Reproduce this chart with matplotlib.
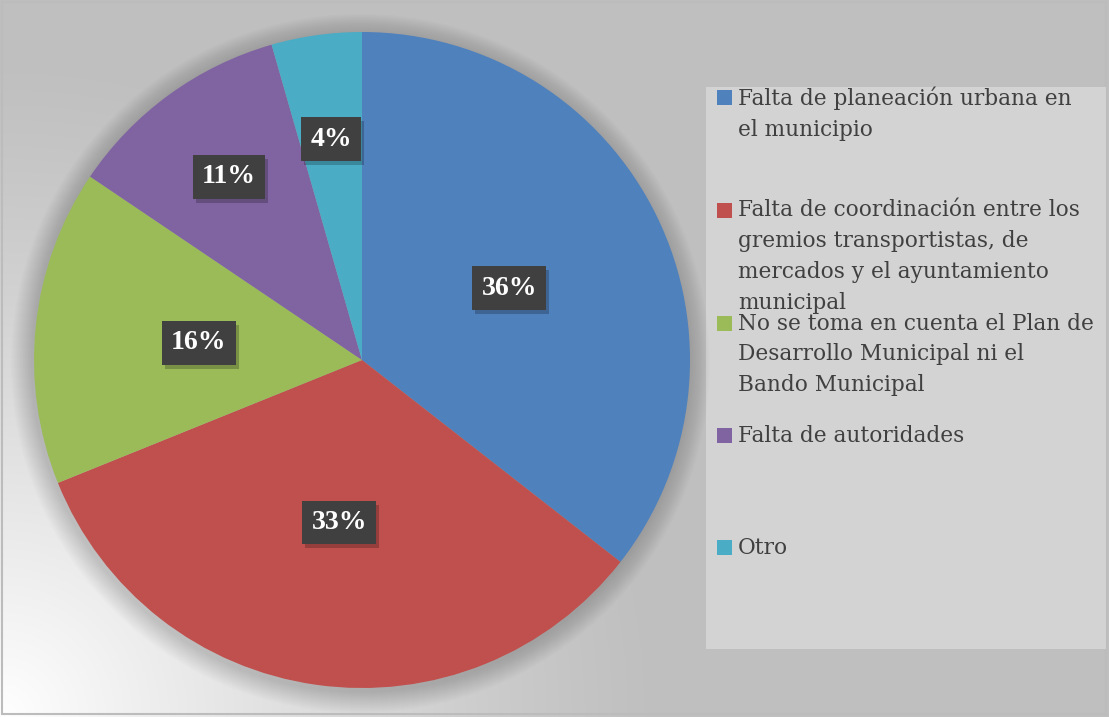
import numpy as np
import matplotlib
matplotlib.use("Agg")
import matplotlib.pyplot as plt
from matplotlib.patches import Rectangle, Circle

# -------------------------------
# Data
# -------------------------------
categories = [
    "Falta de planeación urbana en\nel municipio",
    "Falta de coordinación entre los\ngremios transportistas, de\nmercados y el ayuntamiento\nmunicipal",
    "No se toma en cuenta el Plan de\nDesarrollo Municipal ni el\nBando Municipal",
    "Falta de autoridades",
    "Otro",
]
counts = [16, 15, 7, 5, 2]

colors = ["#4f81bd", "#c0504d", "#9bbb59", "#8064a2", "#4bacc6"]
label_dist = [0.5, 0.5, 0.5, 0.69, 0.68]

W, H = 1109, 717
fig = plt.figure(figsize=(W / 100, H / 100), dpi=100)
fig.patch.set_facecolor("white")

# -------------------------------
# Background gradient
# -------------------------------
bg = fig.add_axes([0, 0, 1, 1])
yy, xx = np.mgrid[0:H, 0:W]
d = np.sqrt((xx - 0.0) ** 2 + (yy - 717.0) ** 2)
v = 0.75 + 0.25 * np.clip(1 - d / 660.0, 0, 1) ** 1.2
bg.imshow(np.dstack([v, v, v]), extent=[0, W, H, 0], aspect="auto")
bg.set_xlim(0, W)
bg.set_ylim(H, 0)
bg.axis("off")
bg.add_patch(Rectangle((2, 2), W - 5, H - 5, fill=False,
                       edgecolor="#bcbcbc", linewidth=1.5))

# legend panel
bg.add_patch(Rectangle((706, 87), 400, 562, facecolor="#d3d3d3",
                       edgecolor="none"))

# -------------------------------
# Pie
# -------------------------------
cx, cy, R = 362, 360, 328
ax = fig.add_axes([(cx - 330) / W, (H - cy - 330) / H, 660 / W, 660 / H])
r = R / 330

# soft shadow
for i in range(14):
    ax.add_patch(Circle((-0.005, -0.01), r + 0.065 * (i + 1) / 14,
                        facecolor="black", alpha=0.011, edgecolor="none",
                        clip_on=False, zorder=0))

wedges, texts, autotexts = ax.pie(
    counts,
    colors=colors,
    startangle=90,
    counterclock=False,
    radius=r,
    autopct=lambda p: "{:.0f}%".format(p),
    pctdistance=0.5,
    wedgeprops=dict(linewidth=0),
    textprops=dict(color="white", fontsize=20, fontweight="bold",
                   family="Liberation Serif"),
)
ax.set_xlim(-1, 1)
ax.set_ylim(-1, 1)
ax.set_aspect("equal")

for w, t, dist in zip(wedges, autotexts, label_dist):
    mid = np.deg2rad((w.theta1 + w.theta2) / 2)
    t.set_position((dist * r * np.cos(mid), dist * r * np.sin(mid)))
    t.set_zorder(6)
    t.set_bbox(dict(boxstyle="square,pad=0.33", facecolor="#404040",
                    edgecolor="none"))

# drop shadows behind the label boxes
fig.canvas.draw()
inv = ax.transData.inverted()
for t in autotexts:
    bb = t.get_bbox_patch().get_window_extent()
    (x0, y0), (x1, y1) = inv.transform([(bb.x0 + 3, bb.y0 - 4),
                                        (bb.x1 + 3, bb.y1 - 4)])
    ax.add_patch(Rectangle((x0, y0), x1 - x0, y1 - y0, facecolor="black",
                           alpha=0.22, edgecolor="none", zorder=5))

# -------------------------------
# Legend
# -------------------------------
entry_y = [97, 210, 323, 435, 547]
for lab, c, ey in zip(categories, colors, entry_y):
    bg.add_patch(Rectangle((717, ey - 7.5), 15, 15, facecolor=c,
                           edgecolor="none"))
    bg.text(738, ey - 10.5, lab, ha="left", va="top", fontsize=15.6,
            family="DejaVu Serif", color="#404040", linespacing=1.52)

fig.savefig("out.png", dpi=100)
